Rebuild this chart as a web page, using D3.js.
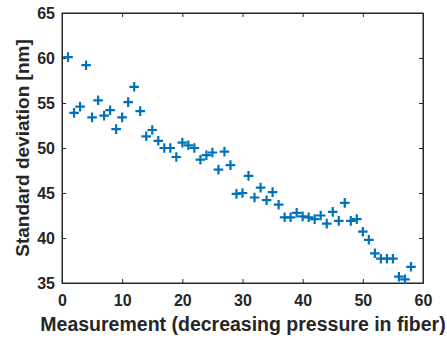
<!DOCTYPE html>
<html><head><meta charset="utf-8">
<script src="https://cdn.jsdelivr.net/npm/d3@7"></script>
<style>body{margin:0;background:#fff;} svg{display:block;}</style>
</head><body>
<svg id="c" width="447" height="340"></svg>
<script>
const measurement = d3.range(1, 59);
const stdDev = [60.1,53.9,54.6,59.2,53.4,55.3,53.6,54.2,52.1,53.4,
  55.1,56.8,54.1,51.3,52.0,50.8,50.0,50.0,49.0,50.6,
  50.3,50.0,48.7,49.2,49.5,47.6,49.6,48.1,44.9,45.0,
  46.9,44.5,45.6,44.2,45.1,43.7,42.3,42.3,42.8,42.4,
  42.3,42.1,42.5,41.6,42.9,41.9,43.9,41.9,42.1,40.7,
  39.8,38.3,37.7,37.7,37.7,35.7,35.4,36.8];
const xTicks = [0,10,20,30,40,50,60];
const yTicks = [35,40,45,50,55,60,65];

const svg = d3.select("#c");
const L = 62, R = 423, T = 13, B = 283;
const x = d3.scaleLinear().domain([0,60]).range([L,R]);
const y = d3.scaleLinear().domain([35,65]).range([B,T]);
const axisCol = "#262626";
const font = "'Liberation Sans', Arial, Helvetica, sans-serif";

// box
svg.append("rect").attr("x",L).attr("y",T).attr("width",R-L).attr("height",B-T)
  .attr("fill","none").attr("stroke",axisCol).attr("stroke-width",1);

const gx = svg.append("g").attr("transform",`translate(0,${B})`)
  .call(d3.axisBottom(x).tickValues(xTicks).tickSizeInner(-4).tickSizeOuter(0).tickPadding(12));
const gy = svg.append("g").attr("transform",`translate(${L},0)`)
  .call(d3.axisLeft(y).tickValues(yTicks).tickSizeInner(-4).tickSizeOuter(0).tickPadding(7));
// top & right ticks
svg.append("g").attr("transform",`translate(0,${T})`)
  .call(d3.axisTop(x).tickValues(xTicks).tickSizeInner(-4).tickSizeOuter(0).tickFormat(""));
svg.append("g").attr("transform",`translate(${R},0)`)
  .call(d3.axisRight(y).tickValues(yTicks).tickSizeInner(-4).tickSizeOuter(0).tickFormat(""));
svg.selectAll(".domain").attr("stroke",axisCol);
svg.selectAll(".tick line").attr("stroke",axisCol);
svg.selectAll(".tick text").attr("fill",axisCol).style("font-family",font)
  .style("font-size","16px").style("font-weight","bold");

// markers
const s = 4.8;
const pts = svg.append("g").attr("stroke","#0072BD").attr("stroke-width",2.2);
pts.selectAll("path").data(measurement).join("path")
  .attr("d", (d,i) => {
    const px = x(d), py = y(stdDev[i]);
    return `M${px-s},${py}H${px+s}M${px},${py-s}V${py+s}`;
  });

svg.append("text").attr("x",243).attr("y",331).attr("text-anchor","middle")
  .attr("fill",axisCol).style("font-family",font).style("font-size","19.5px").style("font-weight","bold")
  .text("Measurement (decreasing pressure in fiber)");
svg.append("text").attr("transform",`translate(29,${(T+B)/2}) rotate(-90)`).attr("text-anchor","middle")
  .attr("fill",axisCol).style("font-family",font).style("font-size","19px").style("font-weight","bold")
  .text("Standard deviation [nm]");
</script>
</body></html>
